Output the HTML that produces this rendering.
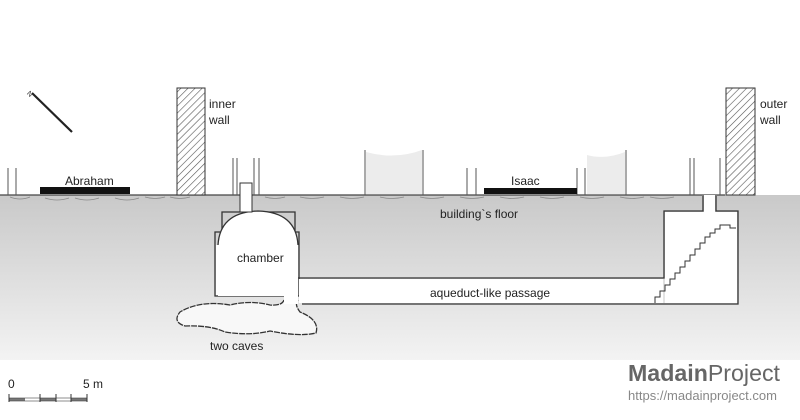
<!DOCTYPE html>
<html><head><meta charset="utf-8"><style>
html,body{margin:0;padding:0;background:#fff}
svg{display:block}
text{font-family:"Liberation Sans",Arial,sans-serif;fill:#222}
</style></head><body>
<svg width="800" height="420" viewBox="0 0 800 420" xmlns="http://www.w3.org/2000/svg">
<defs>
<linearGradient id="g" x1="0" y1="0" x2="0" y2="1">
<stop offset="0" stop-color="#c9c9c9"/><stop offset="1" stop-color="#f3f3f3"/>
</linearGradient>
<pattern id="h" width="5" height="5" patternUnits="userSpaceOnUse" patternTransform="rotate(45)">
<rect width="5" height="5" fill="#fff"/><line x1="0" y1="0" x2="0" y2="5" stroke="#555" stroke-width="1.2"/>
</pattern>
</defs>
<rect x="0" y="195" width="800" height="165" fill="url(#g)"/>
<rect x="0" y="360" width="800" height="60" fill="#fff"/>
<line x1="0" y1="195" x2="725" y2="195" stroke="#444" stroke-width="1.2"/>
<path d="M10 197 q10 4 20 0 M45 198 q12 4 24 0 M75 198 q12 4 24 0 M115 198 q12 4 24 0 M145 197 q10 3 20 0 M170 197 q10 3 20 0 M265 197 q10 3 20 0 M300 197 q12 3 24 0 M340 197 q12 3 24 0 M380 197 q12 3 24 0 M420 197 q12 3 24 0 M460 197 q12 3 24 0 M500 197 q12 3 24 0 M540 197 q12 3 24 0 M580 197 q12 3 24 0 M620 197 q12 3 24 0 M650 197 q12 3 24 0" stroke="#888" fill="none" stroke-width="0.8"/>
<line x1="32" y1="93" x2="72" y2="132" stroke="#222" stroke-width="2.2"/>
<text x="28" y="96" font-size="7" transform="rotate(45 30 93)">N</text>
<g stroke="#555" stroke-width="1">
<line x1="8" y1="168" x2="8" y2="195"/><line x1="16" y1="168" x2="16" y2="195"/>
<line x1="233" y1="158" x2="233" y2="195"/><line x1="237" y1="158" x2="237" y2="195"/>
<line x1="254" y1="158" x2="254" y2="195"/><line x1="259" y1="158" x2="259" y2="195"/>
<line x1="365" y1="150" x2="365" y2="195"/><line x1="423" y1="150" x2="423" y2="195"/>
<line x1="467" y1="168" x2="467" y2="195"/><line x1="476" y1="168" x2="476" y2="195"/>
<line x1="577" y1="168" x2="577" y2="195"/><line x1="585" y1="168" x2="585" y2="195"/>
<line x1="626" y1="150" x2="626" y2="195"/>
<line x1="690" y1="158" x2="690" y2="195"/><line x1="694" y1="158" x2="694" y2="195"/>
<line x1="720" y1="158" x2="720" y2="195"/>
</g>
<path d="M366 152 Q395 160 422 150 L422 194 L366 194Z" fill="#ececec"/>
<path d="M587 155 Q605 160 625 152 L625 194 L587 194Z" fill="#ececec"/>
<rect x="177" y="88" width="28" height="107" fill="url(#h)" stroke="#333"/>
<rect x="726" y="88" width="29" height="107" fill="url(#h)" stroke="#333"/>
<text x="209" y="108" font-size="12">inner</text><text x="209" y="124" font-size="12">wall</text>
<text x="760" y="108" font-size="12">outer</text><text x="760" y="124" font-size="12">wall</text>
<rect x="40" y="187" width="90" height="7" fill="#111"/>
<text x="65" y="185" font-size="12">Abraham</text>
<rect x="484" y="188" width="93" height="6" fill="#111"/>
<text x="511" y="185" font-size="12">Isaac</text>
<text x="440" y="218" font-size="12">building`s floor</text>
<!-- caves -->
<path d="M284 300 Q282 306 270 305 Q250 300 230 305 Q200 300 180 312 Q172 322 185 326 Q210 325 225 332 Q250 336 270 331 Q300 337 316 333 Q320 320 300 312 Q294 304 298 300" fill="#f8f8f8" stroke="#333" stroke-width="1.3" stroke-dasharray="6 1"/>
<!-- chamber -->
<path d="M222 212 L295 212 L295 232 L299 232 L299 296 L215 296 L215 232 L222 232Z" fill="none" stroke="#333" stroke-width="1.3"/>
<rect x="216" y="245" width="82" height="50" fill="#fff"/>
<path d="M218 296 L218 245 Q220 212 258 211 Q296 212 298 245 L298 296Z" fill="#fff"/>
<path d="M218 245 Q220 212 258 211 Q296 212 298 245" fill="none" stroke="#333" stroke-width="1.3"/>
<rect x="284" y="294" width="14" height="10" fill="#fff"/>
<rect x="240" y="183" width="12" height="29" fill="#fff" stroke="#333"/>
<text x="237" y="262" font-size="12">chamber</text>
<path d="M298 278 L664 278 L664 211 L703 211 L703 196 M716 196 L716 211 L738 211 L738 304 L302 304" fill="none" stroke="#333" stroke-width="1.3"/>
<rect x="299" y="279" width="364" height="24" fill="#fff"/>
<rect x="665" y="212" width="72" height="91" fill="#fff"/>
<rect x="704" y="195" width="11" height="18" fill="#fff"/>
<path d="M655 303 L655 297 L660 297 L660 291 L665 291 L665 285 L670 285 L670 279 L675 279 L675 273 L680 273 L680 267 L685 267 L685 261 L690 261 L690 255 L695 255 L695 249 L700 249 L700 243 L705 243 L705 237 L710 237 L710 233 L715 233 L715 229 L720 229 L720 225 L730 225 L730 228 L736 228" fill="none" stroke="#333"/>
<text x="430" y="297" font-size="12">aqueduct-like passage</text>
<text x="210" y="350" font-size="12">two caves</text>
<text x="8" y="388" font-size="12">0</text><text x="83" y="388" font-size="12">5 m</text>
<rect x="9" y="398" width="78" height="3" fill="#777"/>
<rect x="25" y="398" width="15" height="3" fill="#fff"/><rect x="56" y="398" width="15" height="3" fill="#fff"/>
<rect x="9" y="398" width="78" height="3" fill="none" stroke="#444" stroke-width="0.6"/>
<g stroke="#333"><line x1="9" y1="394" x2="9" y2="402"/><line x1="40" y1="394" x2="40" y2="402"/><line x1="56" y1="394" x2="56" y2="402"/><line x1="71" y1="394" x2="71" y2="402"/><line x1="87" y1="394" x2="87" y2="402"/></g>
<text x="628" y="381" font-size="23" style="fill:#666" textLength="152" lengthAdjust="spacingAndGlyphs"><tspan font-weight="bold">Madain</tspan>Project</text>
<text x="628" y="400" font-size="12.5" style="fill:#888" textLength="149" lengthAdjust="spacingAndGlyphs">https://madainproject.com</text>
</svg>
</body></html>
